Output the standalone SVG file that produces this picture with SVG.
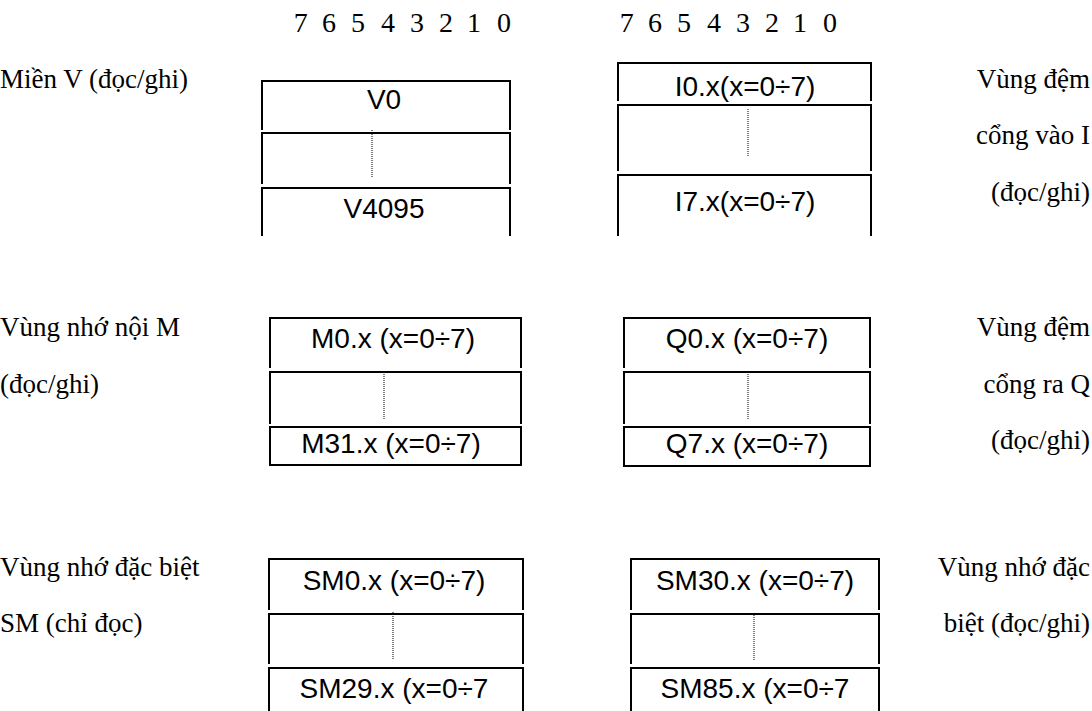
<svg xmlns="http://www.w3.org/2000/svg" width="1092" height="711" viewBox="0 0 1092 711">
<style>
.lbl{font-family:"Liberation Serif","Times New Roman",serif;font-size:27px;fill:#000}
.lr{text-anchor:end}
.dig{font-family:"Liberation Serif","Times New Roman",serif;font-size:28px;fill:#000;text-anchor:middle}
.cell{font-family:"Liberation Sans",Arial,sans-serif;font-size:28px;fill:#000;text-anchor:middle}
.fr{fill:none;stroke:#000;stroke-width:2}
.dot{stroke:#000;stroke-width:1;stroke-dasharray:1 1;fill:none}
</style>
<rect width="1092" height="711" fill="#fff"/>
<g id="bits-left">
<text class="dig" y="32"><tspan x="300.7">7</tspan><tspan x="329">6</tspan><tspan x="358">5</tspan><tspan x="388">4</tspan><tspan x="417">3</tspan><tspan x="446">2</tspan><tspan x="474">1</tspan><tspan x="504">0</tspan></text>
</g>
<g id="bits-right">
<text class="dig" y="32"><tspan x="626.7">7</tspan><tspan x="655">6</tspan><tspan x="684">5</tspan><tspan x="714">4</tspan><tspan x="743">3</tspan><tspan x="772">2</tspan><tspan x="800">1</tspan><tspan x="830">0</tspan></text>
</g>
<g id="labels-left">
<text class="lbl" x="0" y="88">Miền V (đọc/ghi)</text>
<text class="lbl" x="0" y="336">Vùng nhớ nội M</text>
<text class="lbl" x="0" y="393">(đọc/ghi)</text>
<text class="lbl" x="0" y="576">Vùng nhớ đặc biệt</text>
<text class="lbl" x="0" y="632">SM (chỉ đọc)</text>
</g>
<g id="labels-right">
<text class="lbl lr" x="1090" y="88">Vùng đệm</text>
<text class="lbl lr" x="1090" y="144">cổng vào I</text>
<text class="lbl lr" x="1090" y="201">(đọc/ghi)</text>
<text class="lbl lr" x="1090" y="336">Vùng đệm</text>
<text class="lbl lr" x="1090" y="393">cổng ra Q</text>
<text class="lbl lr" x="1090" y="449">(đọc/ghi)</text>
<text class="lbl lr" x="1090" y="576">Vùng nhớ đặc</text>
<text class="lbl lr" x="1090" y="632">biệt (đọc/ghi)</text>
</g>
<g id="box-V">
<path class="fr" d="M262,130V81H510V130M262,184V133H510V184M262,236V188H510V236"/>
<line class="dot" x1="372" y1="130" x2="372" y2="178"/>
<text class="cell" x="384" y="109">V0</text>
<text class="cell" x="384" y="218">V4095</text>
</g>
<g id="box-I">
<path class="fr" d="M618,101V63H871V101M618,171V105H871V171M618,236V175H871V236"/>
<line class="dot" x1="748" y1="109" x2="748" y2="156"/>
<text class="cell" x="745" y="96">I0.x(x=0÷7)</text>
<text class="cell" x="745" y="211">I7.x(x=0÷7)</text>
</g>
<g id="box-M">
<path class="fr" d="M270,368V318H521V368M270,424V372H521V424M270,427H521V465H270Z"/>
<line class="dot" x1="384" y1="372" x2="384" y2="420"/>
<text class="cell" x="393" y="348">M0.x (x=0÷7)</text>
<text class="cell" x="391" y="453">M31.x (x=0÷7)</text>
</g>
<g id="box-Q">
<path class="fr" d="M624,368V318H870V368M624,424V372H870V424M624,427H870V466H624Z"/>
<line class="dot" x1="748" y1="372" x2="748" y2="420"/>
<text class="cell" x="747" y="348">Q0.x (x=0÷7)</text>
<text class="cell" x="747" y="453">Q7.x (x=0÷7)</text>
</g>
<g id="box-SM">
<path class="fr" d="M269,610V559H523V610M269,664V614H523V664M269,712V668H523V712"/>
<line class="dot" x1="393" y1="612" x2="393" y2="659"/>
<text class="cell" x="394" y="590">SM0.x (x=0÷7)</text>
<text class="cell" x="394" y="698">SM29.x (x=0÷7</text>
</g>
<g id="box-SM2">
<path class="fr" d="M631,610V559H879V610M631,664V614H879V664M631,712V668H879V712"/>
<line class="dot" x1="754" y1="615" x2="754" y2="661"/>
<text class="cell" x="755" y="590">SM30.x (x=0÷7)</text>
<text class="cell" x="755" y="698">SM85.x (x=0÷7</text>
</g>
<g id="connectors"></g>
</svg>
